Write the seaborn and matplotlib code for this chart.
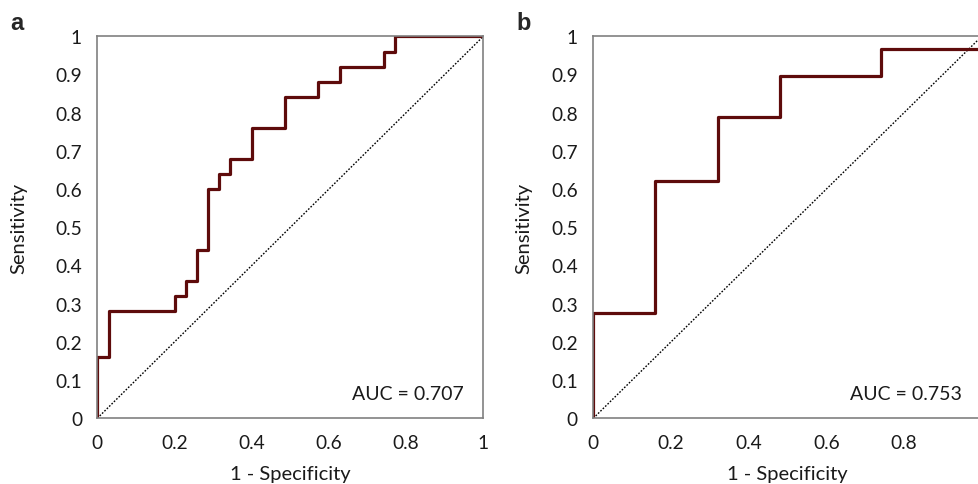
import matplotlib
matplotlib.use("Agg")
import matplotlib.pyplot as plt
import seaborn as sns
import pandas as pd

sns.set_style("white")
plt.rcParams["font.family"] = ["Lato", "DejaVu Sans"]

# ROC corner points (step curve, horizontal then vertical)
fpr_a = [0, 0, 0.029, 0.2, 0.229, 0.257, 0.286, 0.314, 0.343, 0.4, 0.486, 0.571, 0.629, 0.743, 0.771, 1]
tpr_a = [0, 0.16, 0.28, 0.32, 0.36, 0.44, 0.60, 0.64, 0.68, 0.76, 0.84, 0.88, 0.92, 0.96, 1.0, 1.0]
auc_a = 0.707

fpr_b = [0, 0, 0.16, 0.32, 0.48, 0.74, 1, 1]
tpr_b = [0, 0.276, 0.62, 0.79, 0.897, 0.966, 0.966, 1.0]
auc_b = 0.753

chance = [0, 1]
xticks = [0, 0.2, 0.4, 0.6, 0.8, 1]
yticks = [0, 0.1, 0.2, 0.3, 0.4, 0.5, 0.6, 0.7, 0.8, 0.9, 1]

curve_color = "#5e0b0b"
grey = "#808080"
text_color = "#1a1a1a"

fig = plt.figure(figsize=(9.79, 4.85), dpi=100)
ax_a = fig.add_axes([0.0994, 0.1355, 0.3943, 0.7876])
ax_b = fig.add_axes([0.606, 0.1355, 0.3968, 0.7876])


def tick_label(v):
    return "%g" % v


def draw(ax, fpr, tpr, auc, ylab_x):
    df = pd.DataFrame({"fpr": fpr, "tpr": tpr})
    sns.lineplot(x=chance, y=chance, ax=ax, color="black", lw=1.0,
                 linestyle=(0, (1.2, 1.2)), sort=False, estimator=None)
    sns.lineplot(data=df, x="fpr", y="tpr", ax=ax, color=curve_color, lw=2.3,
                 drawstyle="steps-post", sort=False, estimator=None)
    ax.set_xlim(0, 1)
    ax.set_ylim(0, 1)
    ax.set_xticks(xticks)
    ax.set_yticks(yticks)
    ax.set_xticklabels([tick_label(v) for v in xticks])
    ax.set_yticklabels([tick_label(v) for v in yticks])
    ax.tick_params(direction="inout", length=8, width=1, color=grey,
                   labelsize=13.8, labelcolor=text_color, pad=7)
    for s in ax.spines.values():
        s.set_color(grey)
        s.set_linewidth(1.2)
    ax.set_xlabel("1 - Specificity", fontsize=14.5, color=text_color)
    ax.set_ylabel("Sensitivity", fontsize=14.5, color=text_color)
    ax.xaxis.set_label_coords(0.5, -0.122)
    ax.yaxis.set_label_coords(ylab_x, 0.5)
    ax.text(0.95, 0.065, "AUC = %.3f" % auc, ha="right", va="center",
            fontsize=14, color=text_color, transform=ax.transAxes)


draw(ax_a, fpr_a, tpr_a, auc_a, -0.18)
draw(ax_b, fpr_b, tpr_b, auc_b, -0.158)

fig.text(0.0102, 0.938, "a", fontsize=17, fontweight="bold",
         family=["Liberation Sans", "DejaVu Sans"])
fig.text(0.528, 0.938, "b", fontsize=17, fontweight="bold",
         family=["Liberation Sans", "DejaVu Sans"])

fig.savefig("out.png", dpi=100)
